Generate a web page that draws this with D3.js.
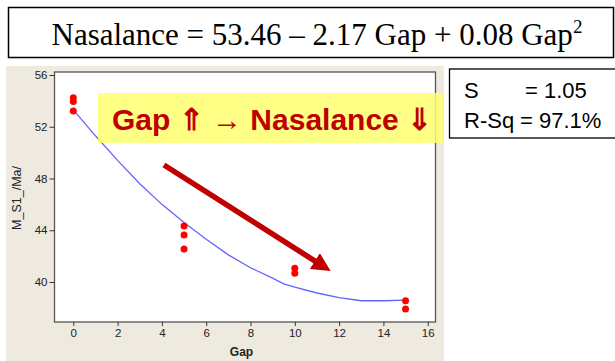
<!DOCTYPE html>
<html>
<head>
<meta charset="utf-8">
<script src="https://cdn.jsdelivr.net/npm/d3@7"></script>
<style>
  body { margin: 0; background: #fff; }
  svg { display: block; }
</style>
</head>
<body>
<div id="chart"></div>
<script>
const gap = [0, 0, 0, 5, 5, 5, 10, 10, 15, 15]
const nasalance = [54.25, 53.95, 53.22, 44.33, 43.64, 42.55, 41.07, 40.68, 38.56, 37.92]

// fitted curve
const fitGap = [0, 1, 2, 3, 4, 5, 6, 7, 8, 9, 9.5, 10, 11, 12, 13, 14, 15]
const fitNasalance = [53.3, 51.3, 49.4, 47.6, 46.0, 44.6, 43.3, 42.1, 41.1, 40.3, 39.85, 39.6, 39.15, 38.8, 38.55, 38.55, 38.6]

const xTicks = [0, 2, 4, 6, 8, 10, 12, 14, 16]
const yTicks = [40, 44, 48, 52, 56]

const statLabels = ['S', 'R-Sq']
const statValues = ['= 1.05', '= 97.1%']

const width = 615
const height = 361

const svg = d3.select('#chart').append('svg')
  .attr('width', width)
  .attr('height', height)

// title box
svg.append('rect')
  .attr('x', 8.5).attr('y', 7.5)
  .attr('width', 605).attr('height', 50)
  .attr('fill', '#fff').attr('stroke', '#000').attr('stroke-width', 1.5)

const title = svg.append('text')
  .attr('x', 51.5).attr('y', 45)
  .attr('font-family', 'Liberation Serif, Times New Roman, serif')
  .attr('font-size', 31)
  .attr('fill', '#000')
title.append('tspan').text('Nasalance = 53.46 \u2013 2.17 Gap + 0.08 Gap')
title.append('tspan').attr('dy', -12).attr('font-size', 19).text('2')

// minitab panel
svg.append('rect')
  .attr('x', 6).attr('y', 66)
  .attr('width', 438).attr('height', 295)
  .attr('fill', '#eeeae0')

const x = d3.scaleLinear().domain([0, 16]).range([73.3, 427.7])
const y = d3.scaleLinear().domain([40, 56]).range([282, 75])

const plotL = 54.5, plotR = 435.5, plotT = 72, plotB = 322
svg.append('rect')
  .attr('x', plotL).attr('y', plotT)
  .attr('width', plotR - plotL).attr('height', plotB - plotT)
  .attr('fill', '#fff').attr('stroke', '#555').attr('stroke-width', 1.3)

const font = 'Liberation Sans, Tahoma, sans-serif'

const xAxis = svg.append('g')
  .attr('transform', `translate(0,${plotB})`)
  .call(d3.axisBottom(x).tickValues(xTicks).tickSize(4).tickPadding(3))
xAxis.select('.domain').remove()
xAxis.selectAll('line').attr('stroke', '#333')
xAxis.selectAll('text').attr('font-family', font).attr('font-size', 11.5).attr('fill', '#222')

const yAxis = svg.append('g')
  .attr('transform', `translate(${plotL},0)`)
  .call(d3.axisLeft(y).tickValues(yTicks).tickSize(5).tickPadding(2))
yAxis.select('.domain').remove()
yAxis.selectAll('line').attr('stroke', '#333')
yAxis.selectAll('text').attr('font-family', font).attr('font-size', 11.5).attr('fill', '#222')

svg.append('text')
  .attr('x', 241.5).attr('y', 356)
  .attr('text-anchor', 'middle')
  .attr('font-family', font).attr('font-size', 12).attr('font-weight', 'bold')
  .attr('fill', '#222')
  .text('Gap')

svg.append('text')
  .attr('transform', 'translate(21,198) rotate(-90)')
  .attr('text-anchor', 'middle')
  .attr('font-family', font).attr('font-size', 12.5)
  .attr('fill', '#222')
  .text('M_S1_/Ma/')

// fitted curve
const line = d3.line()
  .x((d, i) => x(fitGap[i]))
  .y(d => y(d))
svg.append('path')
  .datum(fitNasalance)
  .attr('d', line)
  .attr('fill', 'none')
  .attr('stroke', '#6464ff')
  .attr('stroke-width', 1.3)

svg.selectAll('circle.obs')
  .data(nasalance)
  .enter()
  .append('circle')
  .attr('class', 'obs')
  .attr('cx', (d, i) => x(gap[i]))
  .attr('cy', d => y(d))
  .attr('r', 3.5)
  .attr('fill', '#ff0000')

// annotation band
svg.append('rect')
  .attr('x', 98).attr('y', 93)
  .attr('width', 345).attr('height', 50)
  .attr('fill', '#ffff70').attr('opacity', 0.85)

svg.append('text')
  .attr('x', 112).attr('y', 130)
  .attr('font-family', 'Liberation Sans, Arial, sans-serif')
  .attr('font-size', 30).attr('font-weight', 'bold')
  .attr('fill', '#c00000')
  .text('Gap \u21D1 \u2192 Nasalance \u21D3')

// trend arrow
svg.append('defs').append('marker')
  .attr('id', 'head')
  .attr('viewBox', '0 0 10 10')
  .attr('refX', 2).attr('refY', 5)
  .attr('markerWidth', 3.4).attr('markerHeight', 3.4)
  .attr('orient', 'auto')
  .append('path')
  .attr('d', 'M0,0 L10,5 L0,10 Z')
  .attr('fill', '#c00000')

svg.append('line')
  .attr('x1', 164).attr('y1', 165)
  .attr('x2', 318).attr('y2', 263)
  .attr('stroke', '#c00000').attr('stroke-width', 5.5)
  .attr('marker-end', 'url(#head)')

// stats box
svg.append('rect')
  .attr('x', 449.5).attr('y', 69)
  .attr('width', 170).attr('height', 69)
  .attr('fill', '#fff').attr('stroke', '#000').attr('stroke-width', 1.3)

const stats = svg.append('g')
  .attr('font-family', 'Liberation Sans, Arial, sans-serif')
  .attr('font-size', 22).attr('fill', '#000')
stats.selectAll('text.lab')
  .data(statLabels)
  .enter().append('text')
  .attr('x', 464).attr('y', (d, i) => 98 + i * 29.5)
  .text(d => d)
stats.selectAll('text.val')
  .data(statValues)
  .enter().append('text')
  .attr('x', (d, i) => i === 0 ? 525 : 520)
  .attr('y', (d, i) => 98 + i * 29.5)
  .text(d => d)
</script>
</body>
</html>
